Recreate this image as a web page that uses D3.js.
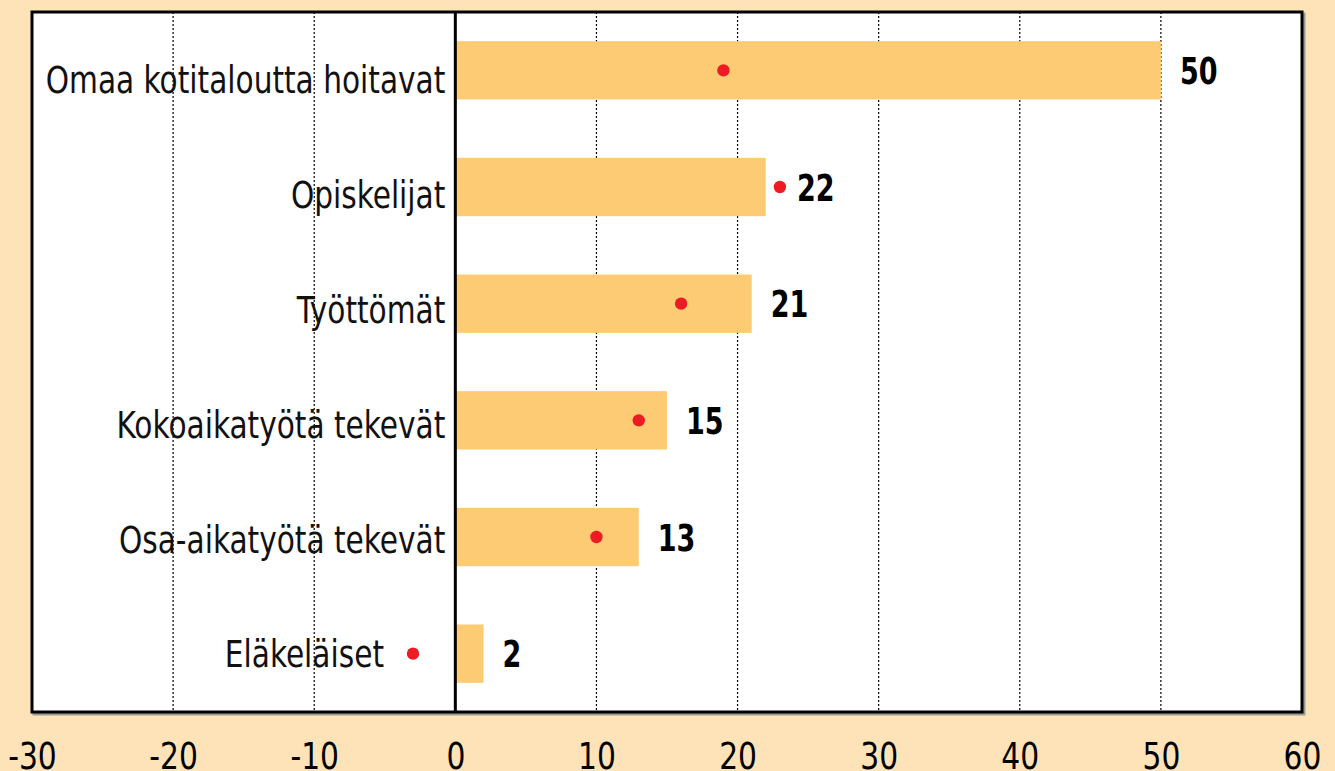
<!DOCTYPE html>
<html><head><meta charset="utf-8">
<script src="https://cdn.jsdelivr.net/npm/d3@7"></script>
<style>
html,body{margin:0;padding:0;background:#fee3b8;}
svg{display:block;}
</style></head>
<body>
<script>
const categories = ["Omaa kotitaloutta hoitavat","Opiskelijat","Työttömät","Kokoaikatyötä tekevät","Osa-aikatyötä tekevät","Eläkeläiset"];
const barValues = [50,22,21,15,13,2];
const dotValues = [19,23,16,13,10,-3];
const tickValues = [-30,-20,-10,0,10,20,30,40,50,60];

const W=1335,H=771;
const m={left:32,right:1302,top:12,bottom:712};
const font='"Liberation Sans Narrow","DejaVu Sans Condensed","Roboto",sans-serif';

const svg=d3.select("body").append("svg").attr("width",W).attr("height",H);
svg.append("rect").attr("width",W).attr("height",H).attr("fill","#fee3b8");

const x=d3.scaleLinear().domain([-30,60]).range([m.left,m.right]);
const y=d3.scaleBand().domain(categories).range([m.top,m.bottom]).paddingInner(0.5).paddingOuter(0.25);
const yLab=d3.scalePoint().domain(categories).range([m.top+68,m.bottom-58]);

// drop shadow
svg.append("rect").attr("x",m.left+2).attr("y",m.top+2).attr("width",m.right-m.left).attr("height",m.bottom-m.top)
 .attr("fill","none").attr("stroke","#999").attr("stroke-width",3);
svg.append("rect").attr("x",m.left).attr("y",m.top).attr("width",m.right-m.left).attr("height",m.bottom-m.top).attr("fill","#fff");

// gridlines
svg.append("g").selectAll("line").data(tickValues.filter(d=>d!==0&&d!==-30&&d!==60)).join("line")
 .attr("x1",d=>x(d)).attr("x2",d=>x(d)).attr("y1",m.top).attr("y2",m.bottom)
 .attr("stroke","#000").attr("stroke-width",1.2).attr("stroke-dasharray","2,2");

// bars
svg.append("g").selectAll("rect").data(categories).join("rect")
 .attr("x",x(0)).attr("y",d=>y(d)).attr("height",y.bandwidth())
 .attr("width",(d,i)=>x(barValues[i])-x(0)).attr("fill","#fdcb74");

// zero line
svg.append("line").attr("x1",x(0)).attr("x2",x(0)).attr("y1",m.top).attr("y2",m.bottom).attr("stroke","#000").attr("stroke-width",3);

// border
svg.append("rect").attr("x",m.left).attr("y",m.top).attr("width",m.right-m.left).attr("height",m.bottom-m.top)
 .attr("fill","none").attr("stroke","#000").attr("stroke-width",3);

// dots
svg.append("g").selectAll("circle").data(categories).join("circle")
 .attr("cx",(d,i)=>x(dotValues[i])).attr("cy",d=>y(d)+y.bandwidth()/2).attr("r",6.2).attr("fill","#ed1c24");

// category labels
svg.append("g").selectAll("text").data(categories).join("text")
 .attr("transform",(d,i)=>`translate(${Math.min(x(0)-10,x(dotValues[i])-29)},${yLab(d)}) scale(0.89,1)`)
 .attr("dy","0.36em")
 .attr("text-anchor","end").attr("font-family",font).attr("font-size",37).attr("fill","#111")
 .text(d=>d);

// value labels
svg.append("g").selectAll("text").data(categories).join("text")
 .attr("transform",(d,i)=>`translate(${Math.max(x(barValues[i])+19,x(dotValues[i])+17)},${y(d)+y.bandwidth()/2}) scale(0.79,1)`)
 .attr("dy","0.36em")
 .attr("font-family",font).attr("font-weight","bold").attr("font-size",38).attr("fill","#000")
 .text((d,i)=>barValues[i]);

// axis
const ax=svg.append("g").attr("transform",`translate(0,${m.bottom})`)
 .call(d3.axisBottom(x).tickValues(tickValues).tickSize(0).tickPadding(0).tickFormat(d=>String(d)));
ax.select(".domain").remove();
ax.selectAll("text").attr("y",0).attr("dy",0)
 .attr("transform","translate(0,57) scale(0.87,1)")
 .attr("font-family",font).attr("font-size",38).attr("fill","#000");
</script>
</body></html>
